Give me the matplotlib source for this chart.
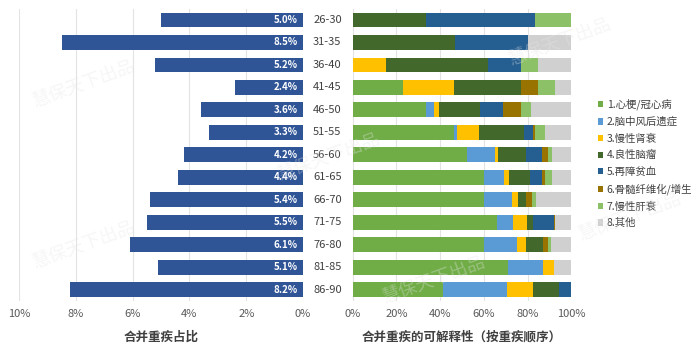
import numpy as np
import matplotlib
matplotlib.use("Agg")
import matplotlib.pyplot as plt

plt.rcParams['font.family'] = ['Noto Sans CJK SC', 'DejaVu Sans']

# age groups (top to bottom)
ages = ["26-30", "31-35", "36-40", "41-45", "46-50", "51-55", "56-60",
        "61-65", "66-70", "71-75", "76-80", "81-85", "86-90"]

# share of combined critical illness (%)
share = [5.0, 8.5, 5.2, 2.4, 3.6, 3.3, 4.2, 4.4, 5.4, 5.5, 6.1, 5.1, 8.2]

diseases = ["1.心梗/冠心病", "2.脑中风后遗症", "3.慢性肾衰", "4.良性脑瘤",
            "5.再障贫血", "6.骨髓纤维化/增生", "7.慢性肝衰", "8.其他"]
colors = ["#70AD47", "#5B9BD5", "#FFC000", "#43682B",
          "#255E91", "#997300", "#8CC168", "#D0D0D0"]

# explainability by disease (%), one list per disease, rows follow ages
d1 = [0, 0, 0, 22.9, 33.4, 46.4, 52.5, 60.2, 60.2, 66.1, 60.2, 71.1, 41.1]
d2 = [0, 0, 0, 0, 4.0, 1.4, 12.6, 9.1, 12.9, 7.4, 14.9, 15.9, 29.4]
d3 = [0, 0, 15.3, 23.4, 2.1, 10.2, 1.6, 2.4, 2.7, 6.2, 4.3, 5.2, 11.9]
d4 = [33.4, 46.9, 46.4, 30.8, 18.9, 20.4, 12.5, 9.5, 3.4, 2.6, 7.9, 0, 12.1]
d5 = [50.1, 33.1, 15.4, 0, 10.3, 4.2, 7.6, 5.4, 0, 9.6, 0, 0, 5.5]
d6 = [0, 0, 0, 7.8, 8.4, 1.0, 2.8, 1.5, 2.8, 0.9, 2.3, 0, 0]
d7 = [16.5, 0, 7.8, 7.8, 4.4, 4.4, 1.8, 3.0, 2.0, 0, 1.2, 0, 0]
d8 = [0, 20.0, 15.1, 7.3, 18.5, 12.0, 8.6, 8.9, 16.0, 7.2, 9.2, 7.8, 0]
parts = [d1, d2, d3, d4, d5, d6, d7, d8]

tick_col = "#595959"
grid_col = "#E3E3E3"

fig = plt.figure(figsize=(7.0, 3.51), dpi=100)
bottom, height = 0.1425, 0.8326
ax1 = fig.add_axes([0.027, bottom, 0.406, height])
ax2 = fig.add_axes([0.504, bottom, 0.312, height])

y = np.arange(len(ages))

# left: share bars, growing to the left
ax1.barh(y, share, height=0.66, color="#2F5597", zorder=3)
ax1.set_xlim(10, 0)
ax1.set_ylim(len(ages) - 0.5, -0.5)
ax1.set_xticks([10, 8, 6, 4, 2, 0])
ax1.set_xticklabels([f"{t}%" for t in [10, 8, 6, 4, 2, 0]])
ax1.set_yticks([])
ax1.grid(axis="x", color=grid_col, lw=0.8, zorder=0)
for i, v in enumerate(share):
    ax1.text(0.18, i, f"{v:.1f}%", color="white", fontsize=7, fontweight="bold",
             ha="right", va="center", zorder=4)
    ax1.text(-0.35, i, ages[i], color="#404040", fontsize=8, ha="left", va="center",
             clip_on=False)
ax1.set_xlabel("合并重疾占比", fontsize=9, fontweight="bold", color="#404040", labelpad=8)

# right: stacked explainability
left = np.zeros(len(ages))
for name, col, vals in zip(diseases, colors, parts):
    ax2.barh(y, vals, left=left, height=0.66, color=col, label=name, zorder=3)
    left += np.array(vals)
ax2.set_xlim(0, 100)
ax2.set_ylim(len(ages) - 0.5, -0.5)
ax2.set_xticks([0, 20, 40, 60, 80, 100])
ax2.set_xticklabels([f"{t}%" for t in [0, 20, 40, 60, 80, 100]])
ax2.set_yticks([])
ax2.grid(axis="x", color=grid_col, lw=0.8, zorder=0)
ax2.set_xlabel("合并重疾的可解释性（按重疾顺序）", fontsize=9, fontweight="bold",
               color="#404040", labelpad=8)

for ax in (ax1, ax2):
    for s in ax.spines.values():
        s.set_visible(False)
    ax.tick_params(axis="x", length=0, labelsize=8, labelcolor=tick_col, pad=6)

fig.legend(loc="upper left", bbox_to_anchor=(0.848, 0.73), frameon=False,
           fontsize=7.5, handlelength=0.55, handleheight=0.55, handletextpad=0.3,
           labelspacing=0.62, borderaxespad=0, labelcolor="#404040")

# faint watermark
for wx, wy in [(0.12, 0.76), (0.12, 0.3), (0.47, 0.55), (0.8, 0.88),
               (0.9, 0.38), (0.62, 0.2)]:
    fig.text(wx, wy, "慧保天下出品", fontsize=13, color="#E6E6E6", alpha=0.35,
             rotation=20, ha="center", va="center", zorder=10)

fig.savefig("out.png", dpi=100)
